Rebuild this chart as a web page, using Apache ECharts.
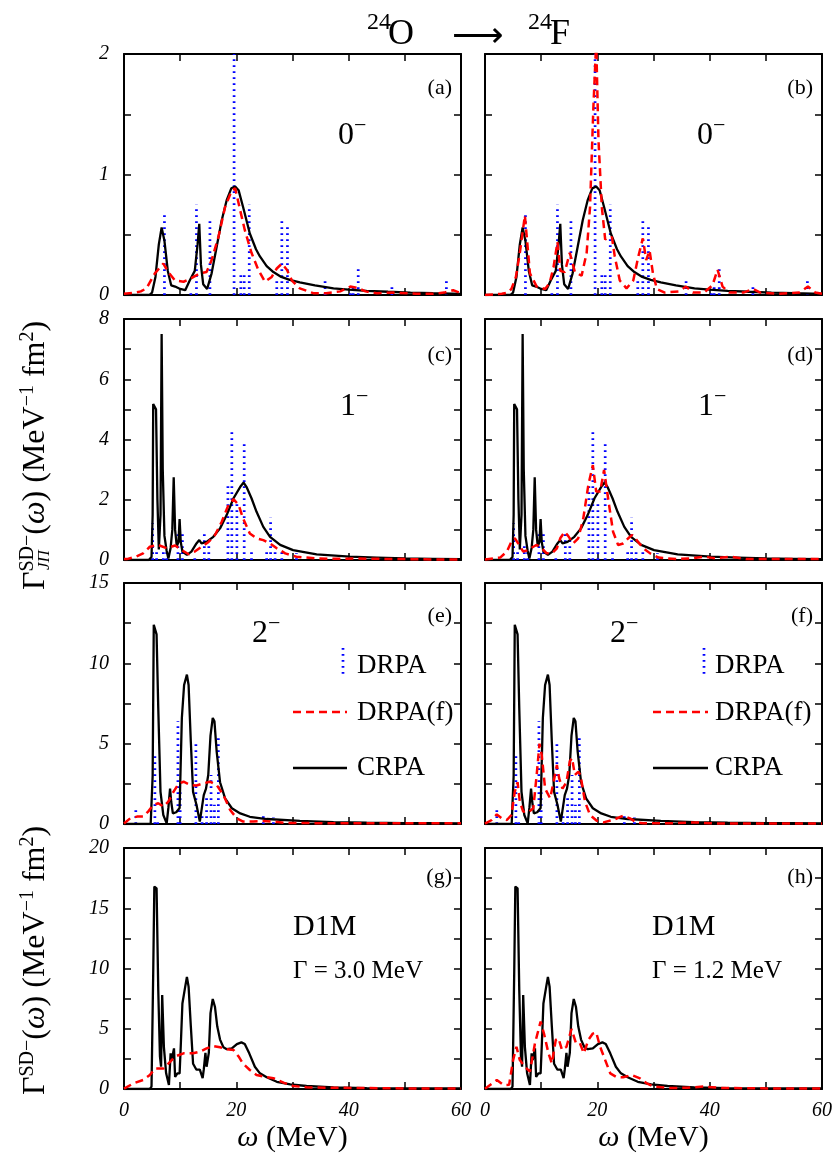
<!DOCTYPE html>
<html><head><meta charset="utf-8">
<script src="https://cdn.jsdelivr.net/npm/echarts/dist/echarts.min.js"></script>
<style>html,body{margin:0;padding:0;background:#fff}#c{width:837px;height:1162px}</style>
</head><body><div id="c"></div>
<script>
// ---------------- data ----------------
const xTickLabels = [0, 20, 40, 60];
const panelLetters = ['(a)','(b)','(c)','(d)','(e)','(f)','(g)','(h)'];
const multipolarities = ['0', '1', '2'];
const yMaxes = [2, 8, 15, 20];
const yIntervals = [0.5, 1, 2.5, 2.5];
const yLabelSteps = [1, 2, 5, 5];
const legendNames = ['DRPA', 'DRPA(f)', 'CRPA'];
const widthLabels = ['Γ = 3.0 MeV', 'Γ = 1.2 MeV'];

// 0- : CRPA, DRPA folded (3.0 MeV / 1.2 MeV), DRPA discrete sticks
const crpa0 = [[0,0],[4.5,0],[5.0,0.02],[5.6,0.15],[6.2,0.42],[6.7,0.56],[7.2,0.45],[7.8,0.2],[8.4,0.08],[9.1,0.07],[10.0,0.05],[10.9,0.04],[11.7,0.12],[12.6,0.2],[13.1,0.42],[13.4,0.59],[13.7,0.25],[14.1,0.09],[14.8,0.05],[15.6,0.18],[16.5,0.4],[17.4,0.62],[18.3,0.79],[19.1,0.885],[19.8,0.9],[20.4,0.87],[21.2,0.73],[22.4,0.51],[23.5,0.38],[24.2,0.32],[25.4,0.24],[26.6,0.19],[28.0,0.15],[29.5,0.125],[31.3,0.105],[34.0,0.08],[37.3,0.055],[40.0,0.045],[43.2,0.035],[47.0,0.027],[51.0,0.02],[55.0,0.015],[60.0,0.01]];
const drpaf0_w30 = [[0,0.01],[2,0.02],[3,0.03],[4,0.055],[5.5,0.18],[7.0,0.26],[7.9,0.19],[9.1,0.12],[10.6,0.11],[12.0,0.14],[13.5,0.18],[14.7,0.19],[15.6,0.29],[16.8,0.48],[18.0,0.73],[19.2,0.87],[19.8,0.885],[20.7,0.7],[21.5,0.54],[22.7,0.35],[23.9,0.21],[25.1,0.11],[26.3,0.15],[27.2,0.22],[28.1,0.26],[29.0,0.21],[29.9,0.12],[31.3,0.055],[33.7,0.015],[36,0.015],[38.5,0.03],[40.3,0.07],[41.5,0.06],[43,0.03],[45,0.015],[48,0.02],[52,0.01],[55,0.01],[57,0.02],[58.6,0.04],[60,0.015]];
const drpaf0_w12 = [[0,0],[3,0.01],[4,0.02],[4.7,0.05],[5.5,0.15],[6.2,0.35],[7.1,0.66],[8.0,0.18],[9.2,0.07],[10.7,0.05],[11.5,0.1],[12.2,0.23],[12.9,0.44],[13.4,0.2],[14.2,0.19],[15.1,0.35],[16.0,0.19],[17.2,0.16],[18.1,0.35],[18.7,0.73],[19.3,1.56],[19.8,2.1],[20.2,1.29],[20.8,0.73],[21.4,0.46],[22.0,0.48],[22.6,0.48],[23.1,0.32],[24.0,0.12],[25.2,0.055],[26.4,0.12],[27.3,0.32],[28.1,0.47],[28.7,0.29],[29.3,0.37],[29.9,0.18],[30.6,0.05],[32,0.02],[34.5,0.03],[35.8,0.07],[37,0.02],[39,0.02],[40.5,0.08],[41.4,0.21],[42.3,0.07],[43.5,0.02],[46,0.02],[47.7,0.05],[49,0.02],[52,0.01],[56,0.02],[57.5,0.07],[58.8,0.02],[60,0.01]];
const drpa0 = [[7.2,0.69],[11.9,0.05],[12.9,0.75],[15.3,0.64],[19.6,2.3],[20.8,0.18],[21.4,0.18],[22.3,0.75],[27.2,0.12],[28.1,0.64],[29.1,0.58],[35.8,0.12],[40.3,0.05],[40.8,0.07],[41.7,0.24],[47.7,0.07],[57.4,0.12]];

// 1-
const crpa1 = [[0,0],[4.4,0],[4.9,0.1],[5.1,1.5],[5.2,5.18],[5.7,5.0],[5.95,2.0],[6.2,0.35],[6.5,1.5],[6.7,7.5],[6.9,3.0],[7.2,0.8],[7.6,0.3],[7.9,0.05],[8.3,0.4],[8.6,1.0],[8.85,2.75],[9.1,1.0],[9.4,0.45],[9.7,0.6],[9.9,1.36],[10.1,0.6],[10.4,0.28],[11.2,0.17],[12.0,0.28],[12.9,0.55],[13.4,0.66],[13.8,0.55],[14.7,0.6],[15.9,0.77],[17.1,1.05],[18.3,1.5],[19.5,2.05],[20.7,2.43],[21.3,2.57],[21.8,2.43],[22.7,2.05],[23.6,1.6],[24.8,1.1],[26.0,0.77],[27.8,0.5],[30.1,0.33],[34.3,0.19],[40.2,0.11],[45,0.08],[50,0.05],[55,0.04],[60,0.03]];
const drpaf1_w30 = [[0,0.03],[0.5,0.03],[2,0.1],[3.4,0.22],[4.6,0.44],[6.1,0.5],[7.6,0.39],[9.1,0.48],[10.3,0.33],[11.5,0.19],[12.6,0.28],[13.8,0.44],[15.0,0.59],[16.2,0.83],[17.4,1.27],[18.6,1.83],[19.5,2.02],[20.4,1.83],[21.2,1.38],[22.4,0.88],[23.6,0.72],[24.8,0.66],[26.0,0.55],[27.2,0.39],[28.7,0.22],[30.7,0.11],[34.3,0.05],[38,0.04],[41,0.05],[45,0.04],[50,0.03],[55,0.02],[60,0.02]];
const drpaf1_w12 = [[0,0.02],[0.3,0.03],[2.7,0.08],[3.9,0.28],[4.7,0.61],[5.3,0.72],[5.9,0.55],[6.8,0.28],[7.7,0.33],[8.6,0.44],[9.2,0.5],[10.1,0.39],[11.0,0.22],[11.9,0.22],[12.8,0.39],[13.4,0.72],[14.2,0.94],[14.8,0.8],[15.7,0.55],[16.6,0.72],[17.5,1.38],[18.4,2.49],[19.2,3.15],[19.8,2.27],[20.5,2.27],[21.2,2.99],[22.0,1.94],[22.8,0.94],[23.7,0.5],[24.6,0.55],[25.5,0.72],[26.2,0.83],[27.0,0.66],[28.2,0.39],[29.4,0.22],[30.9,0.08],[34.1,0.03],[37,0.06],[38.9,0.11],[41,0.06],[43.6,0.11],[46.6,0.03],[50,0.03],[53.7,0.03],[57,0.03],[60,0.03]];
const drpa1 = [[5.1,1.22],[5.8,0.3],[7.0,0.5],[7.6,0.3],[9.6,0.94],[10.4,0.94],[12.6,0.1],[14.3,0.94],[15.1,0.72],[18.5,2.54],[19.2,4.35],[20.1,1.94],[21.4,3.93],[22.7,0.28],[25.4,0.28],[26.1,1.4],[26.9,0.28],[28.1,0.28],[30.7,0.22]];

// 2-
const crpa2 = [[0,0],[4.75,0],[5.1,3.0],[5.3,12.4],[5.8,11.8],[6.1,7.2],[6.5,2.0],[7.0,0.56],[7.6,0.04],[7.9,1.0],[8.2,2.2],[8.4,1.4],[8.7,0.66],[9.3,0.73],[9.9,1.0],[10.3,6.6],[10.7,8.65],[11.2,9.3],[11.5,8.65],[11.9,5.1],[12.3,2.0],[12.9,1.2],[13.5,0.15],[13.8,0.05],[14.2,1.8],[14.6,2.2],[15.0,3.05],[15.4,5.5],[15.8,6.6],[16.1,6.4],[16.5,4.5],[17.1,2.6],[18.0,1.6],[19.2,0.98],[20.7,0.66],[22.4,0.45],[25.4,0.31],[31.3,0.19],[37.3,0.12],[43.2,0.08],[50,0.06],[55,0.05],[60,0.04]];
const drpaf2_w30 = [[0,0.03],[0.2,0.05],[1.1,0.35],[2.3,0.46],[3.4,0.46],[4.3,0.77],[5.2,1.18],[6.1,1.29],[7.0,1.08],[7.9,1.39],[8.8,2.0],[9.7,2.5],[10.6,2.63],[11.8,2.43],[12.9,2.4],[14.1,2.53],[15.3,2.63],[16.5,2.43],[17.7,1.8],[18.9,0.87],[20.1,0.35],[21.2,0.15],[23.0,0.15],[24.8,0.19],[26.6,0.15],[29,0.06],[37.3,0.05],[45,0.04],[60,0.04]];
const drpaf2_w12 = [[0,0.02],[0.3,0.04],[1.2,0.25],[2.1,0.6],[3.0,0.35],[3.9,0.25],[4.7,0.56],[5.3,2.0],[5.8,2.6],[6.2,1.39],[6.8,0.77],[7.7,0.73],[8.6,0.98],[9.2,3.05],[9.7,5.0],[10.1,4.3],[10.7,2.2],[11.6,1.6],[12.2,2.6],[12.8,3.67],[13.2,2.85],[13.8,2.2],[14.5,2.6],[15.1,3.9],[15.5,4.1],[16.0,3.05],[16.6,3.25],[17.0,3.05],[17.8,1.39],[18.7,0.56],[19.9,0.2],[21.1,0.1],[22.8,0.25],[24.6,0.52],[25.8,0.35],[27.0,0.1],[28.2,0.04],[32.9,0.04],[37.7,0.1],[40,0.04],[50,0.03],[60,0.03]];
const drpa2 = [[2.1,0.91],[5.5,4.3],[6.0,0.3],[9.6,6.4],[10.0,2.2],[12.8,5.2],[13.9,0.6],[14.7,1.6],[15.5,3.05],[16.1,1.2],[16.8,5.6],[24.8,0.52],[26.6,0.4]];

// total (D1M)
const crpaT = [[0,0],[4.6,0],[4.9,0.2],[5.2,9.6],[5.4,16.8],[5.8,16.65],[6.1,8.2],[6.4,2.7],[6.6,1.85],[6.8,7.8],[7.1,3.5],[7.5,1.3],[8.0,0.33],[8.3,2.96],[8.5,2.4],[8.7,2.4],[8.9,3.37],[9.1,1.0],[9.5,1.3],[9.9,1.3],[10.1,3.5],[10.4,7.1],[10.9,8.5],[11.2,9.3],[11.5,8.5],[11.9,5.2],[12.3,2.1],[12.9,1.6],[13.5,1.6],[14.0,0.9],[14.2,1.6],[14.5,3.0],[14.7,1.85],[15.1,3.0],[15.4,6.3],[15.8,7.47],[16.2,6.8],[16.6,5.2],[17.1,4.1],[17.7,3.46],[18.3,3.3],[19.2,3.37],[20.1,3.73],[20.9,3.87],[21.5,3.73],[22.3,2.96],[23.3,1.85],[24.2,1.3],[25.4,0.97],[27.2,0.6],[29.6,0.39],[32.5,0.25],[37.3,0.14],[43.2,0.08],[50,0.06],[55,0.05],[60,0.04]];
const drpafT_w30 = [[0,0.03],[0.2,0.05],[1.7,0.47],[3.4,0.75],[4.6,1.16],[5.5,1.7],[7.0,1.7],[7.9,2.1],[9.1,2.7],[10.6,2.96],[12.3,2.96],[13.5,3.1],[14.7,3.37],[15.9,3.57],[17.1,3.46],[18.3,3.3],[19.5,3.24],[20.4,2.7],[21.2,2.1],[22.4,1.58],[23.6,1.16],[25.1,1.0],[26.6,0.9],[28.4,0.53],[30.1,0.25],[32.5,0.14],[37.3,0.1],[43.2,0.08],[50,0.05],[60,0.04]];
const drpafT_w12 = [[0,0.03],[0.3,0.05],[2.1,0.75],[3.3,0.33],[4.3,0.35],[5.0,2.4],[5.6,3.5],[6.2,2.4],[7.1,1.85],[8.0,1.44],[8.9,3.8],[9.9,5.6],[10.5,4.6],[11.3,2.96],[11.9,2.13],[12.6,4.07],[13.1,4.2],[13.7,3.24],[14.5,3.5],[15.4,4.98],[16.2,3.8],[16.9,3.8],[17.6,2.96],[18.4,4.07],[19.2,4.6],[19.8,4.7],[20.5,3.5],[21.4,2.4],[22.3,1.3],[23.4,1.0],[24.6,0.97],[26.1,1.16],[27.6,0.88],[28.8,0.47],[30.0,0.2],[32.9,0.08],[36,0.1],[38.9,0.2],[42.4,0.08],[50.7,0.05],[60,0.04]];

// ---------------- layout ----------------
const FONT = "'Liberation Serif','Times New Roman',serif";
const LEFTS = [124, 485], TOPS = [54, 319, 583, 848], GW = 337, GH = 241;
const rows = [
  {crpa: crpa0, red: [drpaf0_w30, drpaf0_w12], sticks: drpa0},
  {crpa: crpa1, red: [drpaf1_w30, drpaf1_w12], sticks: drpa1},
  {crpa: crpa2, red: [drpaf2_w30, drpaf2_w12], sticks: drpa2},
  {crpa: crpaT, red: [drpafT_w30, drpafT_w12], sticks: null}
];
const isMult = (v, s) => Math.abs(v / s - Math.round(v / s)) < 1e-6;

const grid = [], xAxis = [], yAxis = [], series = [];
const lineAx = {show: true, onZero: false, lineStyle: {color: '#000', width: 2}};
const tickIn = {show: true, inside: true, length: 7, lineStyle: {color: '#000', width: 1.5}};
const lblStyle = {color: '#000', fontFamily: FONT, fontStyle: 'italic', fontSize: 20};

rows.forEach((row, r) => {
  for (let c = 0; c < 2; c++) {
    const gi = grid.length;
    grid.push({left: LEFTS[c], top: TOPS[r], width: GW, height: GH, containLabel: false});
    const xb = {gridIndex: gi, type: 'value', min: 0, max: 60, interval: 10, position: 'bottom',
      axisLine: lineAx, axisTick: tickIn, splitLine: {show: false},
      axisLabel: Object.assign({show: r === 3, margin: 12,
        formatter: v => xTickLabels.includes(v) ? String(v) : ''}, lblStyle)};
    if (r === 3) {
      xb.name = '{w|ω} (MeV)';
      xb.nameLocation = 'middle';
      xb.nameGap = 34;
      xb.nameTextStyle = {fontFamily: FONT, fontSize: 30, color: '#000',
        rich: {w: {fontFamily: FONT, fontSize: 30, fontStyle: 'italic', color: '#000'}}};
    }
    const xt = {gridIndex: gi, type: 'value', min: 0, max: 60, interval: 10, position: 'top',
      axisLine: lineAx, axisTick: tickIn, splitLine: {show: false}, axisLabel: {show: false}};
    xAxis.push(xb, xt);
    const step = yLabelSteps[r];
    const yl = {gridIndex: gi, type: 'value', min: 0, max: yMaxes[r], interval: yIntervals[r], position: 'left',
      axisLine: lineAx, axisTick: tickIn, splitLine: {show: false},
      axisLabel: Object.assign({show: c === 0, margin: 15,
        formatter: v => isMult(v, step) ? String(v) : ''}, lblStyle)};
    const yr = {gridIndex: gi, type: 'value', min: 0, max: yMaxes[r], interval: yIntervals[r], position: 'right',
      axisLine: lineAx, axisTick: tickIn, splitLine: {show: false}, axisLabel: {show: false}};
    yAxis.push(yl, yr);
    const xi = gi * 2, yi = gi * 2;
    if (row.sticks) {
      series.push({type: 'custom', xAxisIndex: xi, yAxisIndex: yi, clip: true, silent: true,
        data: row.sticks,
        renderItem: (params, api) => {
          const x = api.value(0), h = api.value(1);
          const p0 = api.coord([x, 0]), p1 = api.coord([x, h]);
          return {type: 'line', shape: {x1: p0[0], y1: p0[1], x2: p1[0], y2: p1[1]},
            style: {stroke: '#0000ff', lineWidth: 2.7, lineDash: [1.7, 4.3]}};
        }});
    }
    series.push({type: 'line', xAxisIndex: xi, yAxisIndex: yi, data: row.crpa, showSymbol: false, symbol: 'none',
      clip: true, lineStyle: {color: '#000', width: 2.3}, z: 3});
    series.push({type: 'line', xAxisIndex: xi, yAxisIndex: yi, data: row.red[c], showSymbol: false, symbol: 'none',
      clip: true, lineStyle: {color: '#ff0000', width: 2.5, type: [8, 5]}, z: 4});
  }
});

// ---------------- annotations ----------------
function T(x, y, text, size, st, props) {
  return Object.assign({type: 'text', x: x, y: y, silent: true, z: 10,
    style: Object.assign({text: text, fontSize: size, fontFamily: FONT, fill: '#000',
      align: 'left', verticalAlign: 'middle'}, st || {})}, props || {});
}
const graphic = [];
// title  24O -> 24F
graphic.push(T(367, 23, '24', 24), T(388, 35, 'O', 36),
  T(478, 38, '⟶', 36, {align: 'center', fontFamily: "'DejaVu Sans'", fontWeight: 'lighter'}),
  T(528, 23, '24', 24), T(550, 35, 'F', 36));
// panel letters
const letterY = [88, 355, 616, 877];
for (let r = 0; r < 4; r++) for (let c = 0; c < 2; c++) {
  graphic.push(T(LEFTS[c] + GW - 9, letterY[r], panelLetters[r * 2 + c], 22, {align: 'right'}));
}
// multipolarity labels
const jpX = [[338, 697], [340, 698], [252, 610]];
const jpY = [136, 407, 634];
for (let r = 0; r < 3; r++) for (let c = 0; c < 2; c++) {
  graphic.push(T(jpX[r][c], jpY[r], multipolarities[r], 32));
  graphic.push(T(jpX[r][c] + 16, jpY[r] - 10, '−', 22));
}
// D1M labels
for (let c = 0; c < 2; c++) {
  const x0 = [293, 652][c];
  graphic.push(T(x0, 927, 'D1M', 30));
  graphic.push(T(x0, 971, widthLabels[c], 25));
}
// legends in (e) and (f)
for (let c = 0; c < 2; c++) {
  const tx = [357, 715][c], bx = [343, 704][c], l0 = [293, 653][c], l1 = [347, 708][c];
  graphic.push({type: 'line', silent: true, z: 10, shape: {x1: bx, y1: 648, x2: bx, y2: 675},
    style: {stroke: '#0000ff', lineWidth: 2.7, lineDash: [1.7, 4.3]}});
  graphic.push({type: 'line', silent: true, z: 10, shape: {x1: l0, y1: 712, x2: l1, y2: 712},
    style: {stroke: '#ff0000', lineWidth: 2.5, lineDash: [8, 5]}});
  graphic.push({type: 'line', silent: true, z: 10, shape: {x1: l0, y1: 768, x2: l1, y2: 768},
    style: {stroke: '#000', lineWidth: 2.5}});
  graphic.push(T(tx, 666, legendNames[0], 27), T(tx, 713, legendNames[1], 27), T(tx, 768, legendNames[2], 27));
}
// rotated y titles
const richY = {
  b: {fontFamily: FONT, fontSize: 32, lineHeight: 34, verticalAlign: 'bottom', color: '#000'},
  w: {fontFamily: FONT, fontSize: 32, lineHeight: 34, verticalAlign: 'bottom', fontStyle: 'italic', color: '#000'},
  s: {fontFamily: FONT, fontSize: 20, verticalAlign: 'top', color: '#000'}
};
graphic.push({type: 'text', x: 35, y: 590, rotation: Math.PI / 2, silent: true, z: 10,
  style: {text: '{b|Γ}{s|SD−}{b|(}{w|ω}{b|) (MeV}{s|−1}{b| fm}{s|2}{b|)}', rich: richY,
    align: 'left', verticalAlign: 'middle', fontFamily: FONT, fontSize: 32}});
graphic.push({type: 'text', x: 45, y: 570, rotation: Math.PI / 2, silent: true, z: 10,
  style: {text: 'JΠ', fontFamily: FONT, fontSize: 17, fontStyle: 'italic', fill: '#000',
    align: 'left', verticalAlign: 'middle'}});
graphic.push({type: 'text', x: 35, y: 1095, rotation: Math.PI / 2, silent: true, z: 10,
  style: {text: '{b|Γ}{s|SD−}{b|(}{w|ω}{b|) (MeV}{s|−1}{b| fm}{s|2}{b|)}', rich: richY,
    align: 'left', verticalAlign: 'middle', fontFamily: FONT, fontSize: 32}});

const chart = echarts.init(document.getElementById('c'), null, {renderer: 'canvas'});
chart.setOption({animation: false, backgroundColor: '#fff', grid, xAxis, yAxis, series, graphic});
</script>
</body></html>
